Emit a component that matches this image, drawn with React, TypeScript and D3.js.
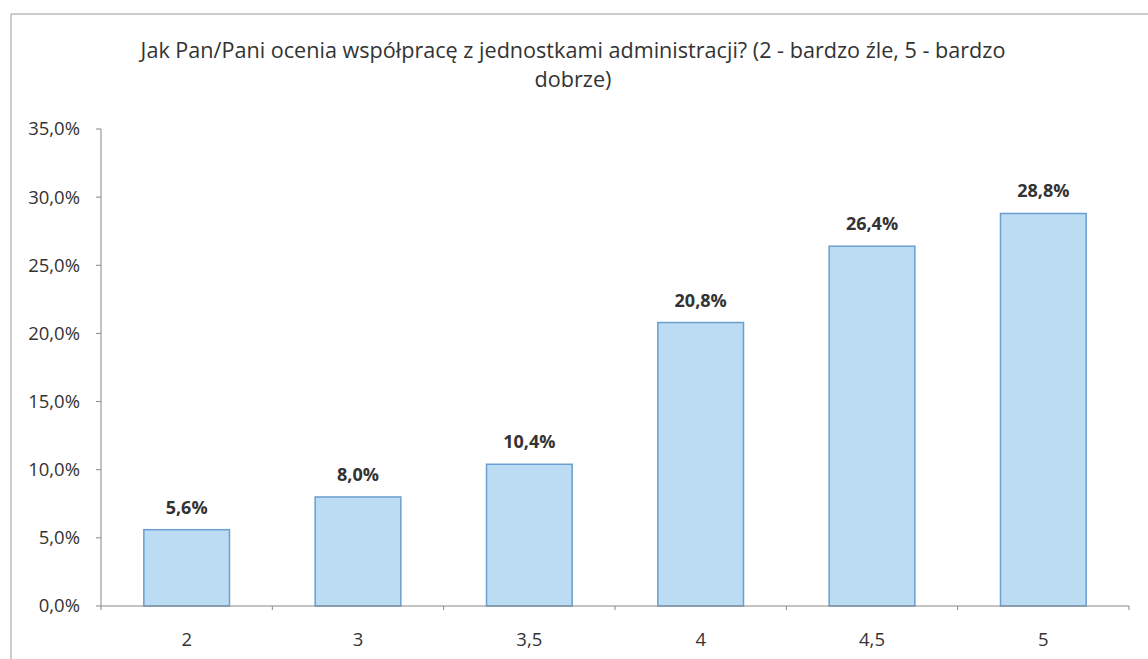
import React from "react";
import * as d3 from "d3";

const categories = ["2", "3", "3,5", "4", "4,5", "5"];
const values = [5.6, 8.0, 10.4, 20.8, 26.4, 28.8];
const yTicks = [0, 5, 10, 15, 20, 25, 30, 35];
const titleLines = [
  "Jak Pan/Pani ocenia współpracę z jednostkami administracji? (2 - bardzo źle, 5 - bardzo",
  "dobrze)",
];

const fmt = (v: number) => v.toFixed(1).replace(".", ",") + "%";

export default function App() {
  const W = 1148, H = 659;
  const left = 101, right = 1129, top = 129, bottom = 606;
  const x = d3.scaleBand<string>().domain(categories).range([left, right]).paddingInner(0.5).paddingOuter(0.25);
  const y = d3.scaleLinear().domain([0, 35]).range([bottom, top]);
  const font = "'Open Sans', sans-serif";
  const boundaries = d3.range(categories.length + 1).map((i) => left + i * ((right - left) / categories.length));
  return (
    <svg width={W} height={H} style={{ position: "absolute", left: 0, top: 0, background: "#fff" }}>
      <rect x={0} y={0} width={W} height={H} fill="#fff" />
      <line x1={11} y1={14} x2={W} y2={14} stroke="#999" strokeWidth={1} />
      <line x1={11} y1={14} x2={11} y2={H} stroke="#999" strokeWidth={1} />
      {titleLines.map((t, i) => (
        <text key={i} x={573} y={58 + i * 29} textAnchor="middle" fontFamily={font} fontSize={21.6} fill="#333">
          {t}
        </text>
      ))}
      {/* y axis */}
      <line x1={left} y1={top} x2={left} y2={bottom} stroke="#888" />
      {yTicks.map((t) => (
        <g key={t}>
          <line x1={left - 5} x2={left} y1={y(t)} y2={y(t)} stroke="#888" />
          <text x={80} y={y(t)} dy="0.35em" textAnchor="end" fontFamily={font} fontSize={18.5} fill="#333">
            {fmt(t)}
          </text>
        </g>
      ))}
      {/* bars */}
      {categories.map((c, i) => (
        <g key={c}>
          <rect
            x={x(c)!}
            y={y(values[i])}
            width={x.bandwidth()}
            height={bottom - y(values[i])}
            fill="#bcdcf4"
            stroke="#6a9fd0"
            strokeWidth={1.5}
          />
          <text
            x={x(c)! + x.bandwidth() / 2}
            y={y(values[i]) - 16}
            textAnchor="middle"
            fontFamily={font}
            fontSize={18}
            fontWeight="bold"
            fill="#333"
          >
            {fmt(values[i])}
          </text>
          <text x={x(c)! + x.bandwidth() / 2} y={646} textAnchor="middle" fontFamily={font} fontSize={18.5} fill="#333">
            {c}
          </text>
        </g>
      ))}
      {/* x axis */}
      <line x1={left} y1={bottom} x2={right} y2={bottom} stroke="#888" />
      {boundaries.map((b, i) => (
        <line key={i} x1={b} x2={b} y1={bottom} y2={bottom + 4} stroke="#888" />
      ))}
    </svg>
  );
}
